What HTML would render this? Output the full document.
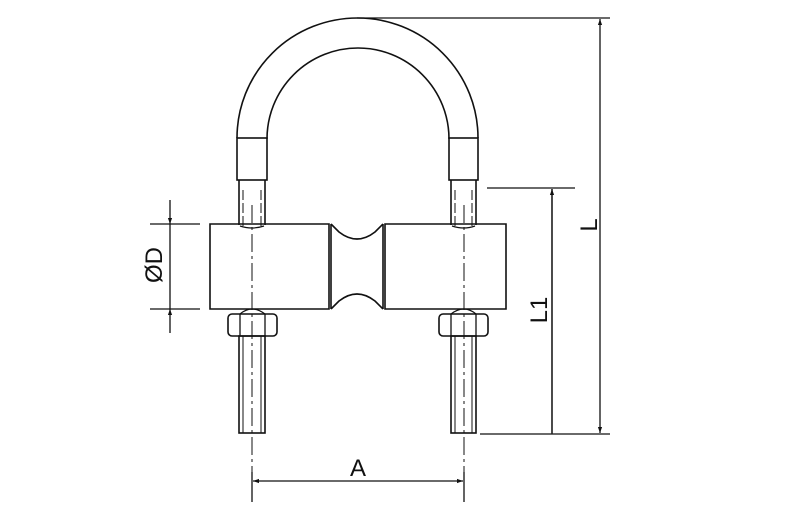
<!DOCTYPE html>
<html><head><style>html,body{margin:0;padding:0;background:#fff}svg{display:block}</style></head><body>
<svg width="800" height="520" viewBox="0 0 800 520" xmlns="http://www.w3.org/2000/svg">
<defs>
<marker id="ar" viewBox="0 0 10 10" refX="10" refY="5" markerWidth="9" markerHeight="6" orient="auto-start-reverse" markerUnits="userSpaceOnUse"><path d="M0,1.5 L10,5 L0,8.5 z" fill="#111"/></marker>
</defs>
<g fill="none" stroke="#111" stroke-width="1.6">
<!-- arch -->
<path d="M237,138 A120.5,120 0 0 1 478,138"/>
<path d="M267,139 A91,91 0 0 1 449,139"/>
<rect x="237" y="138" width="30" height="42"/>
<rect x="449" y="138" width="29" height="42"/>
<!-- upper rods -->
<path d="M239,180 V225 M265,180 V225 M451,180 V225 M476,180 V225"/>
<path d="M240,226 Q252,230 264,226 M452,226 Q464,230 475,226" stroke-width="1.2"/>
<path d="M243,190 V226 M261,190 V226 M455,190 V226 M472,190 V226" stroke-width="1" stroke-dasharray="10,3"/>
<!-- block -->
<path d="M329,224 H210 V309 H329 Z"/>
<path d="M385,224 H506 V309 H385 Z"/>
<path d="M331,224 V309 M383,224 V309"/>
<path d="M331,224 L339,232 Q357,246 375,232 L383,224"/>
<path d="M331,309 L339,301 Q357,287 375,301 L383,309"/>
<!-- nuts -->
<rect x="228" y="314" width="49" height="22" rx="4"/>
<rect x="439" y="314" width="49" height="22" rx="4"/>
<path d="M240,314 V336 M265,314 V336 M451,314 V336 M476,314 V336" stroke-width="1.3"/>
<path d="M240,314 Q252,304 265,314 M451,314 Q464,304 476,314" stroke-width="1.2"/>
<!-- bolts -->
<rect x="239" y="336" width="26" height="97"/>
<rect x="451" y="336" width="25" height="97"/>
<path d="M243,336 V433 M261,336 V433 M455,336 V433 M472,336 V433" stroke-width="1"/>
<!-- center lines -->
<path d="M252,205 V500 M464,205 V500" stroke-width="1" stroke-dasharray="18,4,3,4"/>
</g>
<g fill="none" stroke="#111" stroke-width="1.3">
<!-- L -->
<path d="M357,18 H610 M480,434 H610 M487,188 H575"/>
<path d="M600,19 V433" marker-start="url(#ar)" marker-end="url(#ar)"/>
<path d="M552,189 V433" marker-start="url(#ar)"/>
<path d="M552,189 V434"/>
<!-- D -->
<path d="M150,224 H200 M150,309 H200"/>
<path d="M170,200 V224" marker-end="url(#ar)"/>
<path d="M170,333 V309" marker-end="url(#ar)"/>
<path d="M170,224 V309"/>
<!-- A -->
<path d="M252,472 V502 M464,472 V502"/>
<path d="M253,481 H463" marker-start="url(#ar)" marker-end="url(#ar)"/>
</g>
<g font-family="Liberation Sans, sans-serif" font-size="24" fill="#111">
<text x="358" y="476" text-anchor="middle">A</text>
<text transform="translate(597,225) rotate(-90)" text-anchor="middle">L</text>
<text transform="translate(547,310) rotate(-90)" text-anchor="middle">L1</text>
<text transform="translate(162,265) rotate(-90)" text-anchor="middle">ØD</text>
</g>
</svg>
</body></html>
